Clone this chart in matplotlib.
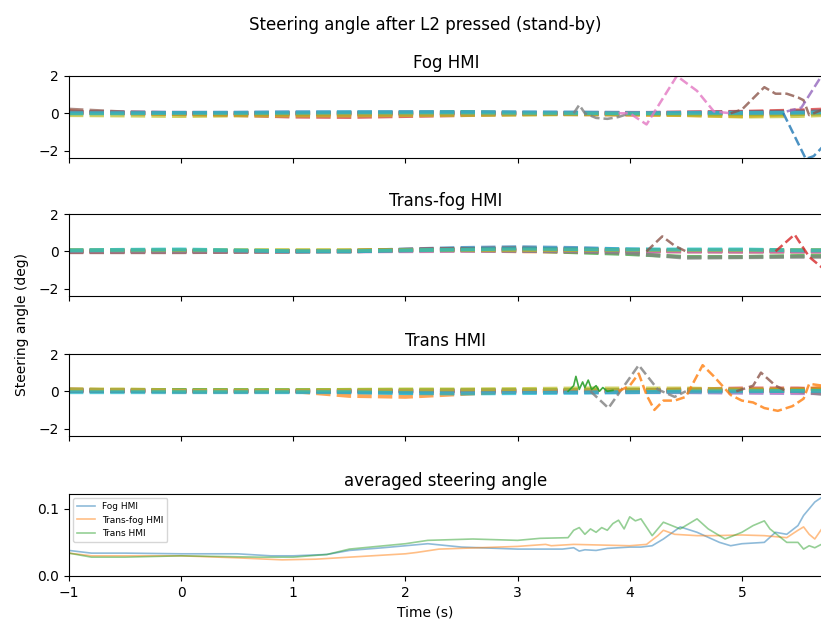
import numpy as np
import matplotlib
matplotlib.use('Agg')
import matplotlib.pyplot as plt

# common coarse time grid for the quiet trials (s)
T_GRID = [-1.0, -0.5, 0.0, 0.5, 1.0, 1.5, 2.0, 2.5, 3.0, 3.5, 4.0, 4.5, 5.0, 5.5, 5.72]

# ---- Fog HMI: quiet trials (one per tab10 colour) ----
FOG_FLAT = [
    [0.05, 0.03, 0.02, 0.03, 0.05, 0.05, 0.05, 0.06, 0.05, 0.04, 0.02, 0.00, 0.02, 0.05, 0.05],
    [0.10, 0.00, -0.05, -0.05, -0.05, -0.05, -0.03, -0.03, -0.02, -0.05, -0.08, -0.10, -0.15, -0.05, 0.00],
    [0.00, 0.02, 0.00, 0.00, 0.00, 0.02, 0.03, 0.05, 0.02, 0.00, -0.02, -0.05, -0.05, -0.02, 0.00],
    [0.10, 0.00, -0.05, -0.10, -0.18, -0.20, -0.15, -0.10, -0.05, -0.03, 0.00, 0.05, 0.08, 0.15, 0.20],
    [0.05, 0.05, 0.03, 0.02, 0.03, 0.03, 0.05, 0.03, 0.02, 0.02, 0.02, 0.03, 0.05, 0.08, 0.10],
    [0.20, 0.05, 0.00, 0.00, 0.00, 0.00, 0.00, 0.00, 0.00, 0.02, 0.02, 0.02, 0.05, 0.10, 0.10],
    [0.00, 0.00, 0.00, 0.02, 0.02, 0.00, 0.00, 0.00, 0.00, 0.00, 0.00, 0.00, 0.00, 0.02, 0.02],
    [0.05, 0.02, 0.00, 0.00, 0.00, 0.00, 0.00, 0.00, -0.02, -0.05, -0.05, -0.02, 0.00, 0.00, 0.00],
    [-0.10, -0.12, -0.15, -0.12, -0.12, -0.12, -0.10, -0.10, -0.08, -0.05, -0.05, -0.10, -0.18, -0.15, -0.10],
    [0.00, 0.00, 0.02, 0.02, 0.03, 0.05, 0.05, 0.05, 0.03, 0.02, 0.00, 0.02, 0.02, 0.03, 0.05],
]
# ---- Fog HMI: trials with large corrections (colour, t, y) ----
FOG_PEAKS = [
    ('C7', [3.50, 3.55, 3.60, 3.70, 3.80, 3.90, 4.00], [0.00, 0.45, 0.00, -0.25, -0.30, -0.20, 0.00]),
    ('C6', [3.90, 4.00, 4.15, 4.42, 4.60, 4.75, 4.90], [0.00, 0.00, -0.60, 2.00, 1.20, 0.10, 0.00]),
    ('C5', [4.90, 5.00, 5.20, 5.30, 5.40, 5.50, 5.55, 5.60, 5.72], [0.00, 0.20, 1.40, 1.05, 1.05, 0.85, 0.70, -0.10, 0.20]),
    ('C4', [5.40, 5.53, 5.72], [0.10, 0.30, 2.10]),
    ('C0', [5.37, 5.57, 5.64, 5.72], [0.00, -2.45, -2.30, -1.80]),
]

# ---- Trans-fog HMI ----
TRANSFOG_FLAT = [
    [0.05, 0.05, 0.05, 0.02, 0.00, 0.02, 0.10, 0.18, 0.22, 0.18, 0.10, 0.05, 0.05, 0.05, 0.05],
    [0.00, 0.00, 0.00, 0.00, 0.00, 0.00, 0.05, 0.05, 0.00, -0.02, 0.00, 0.00, 0.00, 0.00, 0.00],
    [0.00, 0.00, 0.00, 0.00, 0.00, 0.00, 0.05, 0.08, 0.05, -0.05, -0.15, -0.30, -0.30, -0.25, -0.25],
    [-0.02, 0.00, 0.00, 0.00, 0.00, 0.02, 0.08, 0.12, 0.15, 0.10, 0.05, 0.02, 0.00, 0.00, 0.00],
    [0.00, 0.00, 0.00, 0.00, 0.00, 0.00, 0.02, 0.05, 0.05, 0.02, 0.00, 0.00, 0.00, 0.00, 0.00],
    [-0.05, -0.05, -0.05, -0.03, 0.00, 0.03, 0.08, 0.12, 0.15, 0.10, 0.05, 0.00, 0.00, 0.00, 0.00],
    [0.00, 0.00, 0.00, 0.00, 0.00, 0.00, 0.00, 0.02, 0.02, 0.00, 0.00, 0.00, 0.00, 0.00, 0.00],
    [0.00, 0.00, 0.00, 0.00, 0.00, 0.00, 0.05, 0.05, 0.02, 0.00, -0.10, -0.35, -0.32, -0.30, -0.30],
    [0.05, 0.05, 0.05, 0.05, 0.05, 0.05, 0.05, 0.05, 0.05, 0.05, 0.05, 0.05, 0.05, 0.05, 0.05],
    [0.05, 0.08, 0.10, 0.05, 0.00, 0.00, 0.05, 0.10, 0.15, 0.12, 0.10, 0.10, 0.10, 0.05, 0.05],
]
TRANSFOG_PEAKS = [
    ('C5', [4.15, 4.29, 4.40, 4.50], [0.00, 0.80, 0.30, 0.00]),
    ('C3', [5.30, 5.47, 5.60, 5.72], [0.00, 0.90, -0.30, -0.90]),
]

# ---- Trans HMI ----
TRANS_FLAT = [
    [0.05, 0.05, 0.05, 0.03, 0.00, -0.05, -0.08, -0.10, -0.05, -0.05, -0.02, 0.00, 0.00, 0.00, 0.00],
    [0.10, 0.05, 0.00, 0.00, 0.00, -0.25, -0.30, -0.15, 0.00, 0.05, 0.00, 0.00, 0.05, 0.10, 0.20],
    [0.05, 0.05, 0.05, 0.05, 0.05, 0.05, 0.05, 0.05, 0.05, 0.05, 0.05, 0.05, 0.05, 0.05, 0.05],
    [0.00, 0.00, -0.02, -0.02, 0.00, 0.00, 0.00, 0.00, 0.00, 0.00, 0.05, 0.10, 0.15, 0.15, 0.10],
    [0.05, 0.03, 0.00, 0.00, 0.00, 0.00, 0.00, 0.00, 0.00, -0.05, -0.05, -0.05, -0.08, -0.10, -0.10],
    [0.00, 0.00, 0.00, 0.00, 0.00, 0.00, 0.00, 0.00, 0.00, 0.00, 0.00, 0.00, 0.00, 0.00, 0.00],
    [0.05, 0.05, 0.02, 0.00, 0.00, 0.00, 0.00, 0.00, 0.00, 0.00, 0.00, 0.00, 0.00, -0.05, -0.10],
    [0.10, 0.05, 0.00, 0.00, 0.00, 0.00, 0.00, 0.05, 0.05, 0.05, 0.05, 0.05, 0.05, 0.00, -0.15],
    [0.10, 0.10, 0.05, 0.05, 0.05, 0.08, 0.10, 0.10, 0.12, 0.15, 0.15, 0.15, 0.10, 0.10, 0.10],
    [-0.05, -0.05, -0.05, -0.05, -0.05, -0.05, -0.10, -0.12, -0.10, -0.08, -0.05, -0.02, 0.00, 0.02, 0.02],
]
TRANS_PEAKS = [
    ('C7', [3.65, 3.81, 4.08, 4.25, 4.40, 4.50], [0.00, -0.90, 1.40, 0.10, -0.30, 0.00]),
    ('C1', [3.90, 4.00, 4.08, 4.15, 4.22, 4.30, 4.40, 4.50, 4.65, 4.75, 4.90, 5.00, 5.10, 5.20,
            5.32, 5.45, 5.55, 5.60, 5.72],
           [0.00, 0.30, 0.95, -0.20, -1.00, -0.50, -0.50, -0.30, 1.40, 0.80, -0.20, -0.50, -0.60,
            -0.90, -1.05, -0.80, -0.40, 0.40, 0.30]),
    ('C5', [4.95, 5.10, 5.17, 5.30, 5.40], [0.00, 0.30, 1.00, 0.30, 0.00]),
]
# short noisy solid trace in the Trans panel
TRANS_NOISE_T = [3.45, 3.50, 3.52, 3.55, 3.58, 3.60, 3.63, 3.66, 3.70, 3.73, 3.76, 3.80, 3.85]
TRANS_NOISE_Y = [0.00, 0.30, 0.80, 0.10, 0.50, 0.20, 0.60, 0.10, 0.30, 0.00, 0.20, 0.00, 0.05]

# ---- averaged steering angle ----
AVG_FOG_T = [-1.0, -0.8, -0.5, 0.0, 0.5, 0.8, 1.0, 1.3, 1.5, 1.8, 2.0, 2.2, 2.5, 3.0, 3.4, 3.5,
             3.55, 3.6, 3.7, 3.8, 3.9, 4.0, 4.1, 4.2, 4.25, 4.3, 4.45, 4.6, 4.8, 4.9, 5.0, 5.2,
             5.3, 5.4, 5.5, 5.55, 5.6, 5.65, 5.72]
AVG_FOG = [0.038, 0.034, 0.034, 0.033, 0.033, 0.030, 0.030, 0.032, 0.038, 0.042, 0.045, 0.048,
           0.043, 0.040, 0.040, 0.042, 0.037, 0.039, 0.038, 0.041, 0.042, 0.043, 0.043, 0.045,
           0.050, 0.055, 0.073, 0.065, 0.050, 0.045, 0.048, 0.050, 0.065, 0.062, 0.075, 0.090,
           0.100, 0.110, 0.118]
AVG_TRANSFOG_T = [-1.0, -0.8, -0.5, 0.0, 0.5, 0.9, 1.2, 1.5, 2.0, 2.1, 2.3, 3.0, 3.25, 3.3,
                  3.5, 4.0, 4.15, 4.25, 4.3, 4.4, 4.6, 4.75, 5.0, 5.2, 5.4, 5.5, 5.55, 5.6,
                  5.65, 5.72]
AVG_TRANSFOG = [0.034, 0.030, 0.030, 0.030, 0.027, 0.024, 0.025, 0.028, 0.033, 0.035, 0.040,
                0.044, 0.047, 0.045, 0.047, 0.045, 0.047, 0.060, 0.068, 0.062, 0.060, 0.060,
                0.061, 0.060, 0.057, 0.068, 0.073, 0.062, 0.055, 0.072]
AVG_TRANS_T = [-1.0, -0.8, -0.5, 0.0, 0.7, 1.0, 1.3, 1.5, 2.0, 2.2, 2.6, 3.0, 3.2, 3.45, 3.5,
               3.55, 3.6, 3.65, 3.7, 3.75, 3.8, 3.85, 3.9, 3.95, 4.0, 4.05, 4.1, 4.2, 4.3,
               4.45, 4.6, 4.7, 4.85, 5.0, 5.1, 5.2, 5.25, 5.4, 5.5, 5.55, 5.6, 5.65, 5.72]
AVG_TRANS = [0.034, 0.028, 0.028, 0.030, 0.028, 0.028, 0.032, 0.040, 0.048, 0.053, 0.055,
             0.053, 0.056, 0.057, 0.068, 0.072, 0.062, 0.070, 0.065, 0.072, 0.068, 0.078,
             0.083, 0.070, 0.088, 0.082, 0.085, 0.060, 0.080, 0.070, 0.085, 0.070, 0.055,
             0.065, 0.075, 0.082, 0.070, 0.050, 0.050, 0.040, 0.045, 0.042, 0.048]

PANELS = [
    ('Fog HMI', FOG_FLAT, FOG_PEAKS),
    ('Trans-fog HMI', TRANSFOG_FLAT, TRANSFOG_PEAKS),
    ('Trans HMI', TRANS_FLAT, TRANS_PEAKS),
]

fig = plt.figure(figsize=(8.21, 6.26), dpi=100)

# axes boxes in figure fractions [left, bottom, width, height]
tops = [0.8786, 0.6581, 0.4345, 0.2109]
h = 0.131
axes = []
for i, top in enumerate(tops):
    ax = fig.add_axes([0.084, top - h, 0.918, h], sharex=axes[0] if axes else None)
    axes.append(ax)

for ax, (title, flat, peaks) in zip(axes[:3], PANELS):
    for ci, vals in enumerate(flat):
        ax.plot(T_GRID, vals, '--', color=f'C{ci}', lw=2.8, alpha=0.7)
    for color, tt, yy in peaks:
        ax.plot(tt, yy, '--', color=color, lw=1.8, alpha=0.8)
    ax.set_ylim(-2.4, 2.0)
    ax.set_yticks([-2, 0, 2])
    ax.set_title(title, fontsize=12)
    ax.tick_params(labelbottom=False)

axes[2].plot(TRANS_NOISE_T, TRANS_NOISE_Y, '-', color='C2', lw=1.2, alpha=0.9)

ax4 = axes[3]
ax4.plot(AVG_FOG_T, AVG_FOG, color='C0', lw=1.2, alpha=0.5, label='Fog HMI')
ax4.plot(AVG_TRANSFOG_T, AVG_TRANSFOG, color='C1', lw=1.2, alpha=0.5, label='Trans-fog HMI')
ax4.plot(AVG_TRANS_T, AVG_TRANS, color='C2', lw=1.2, alpha=0.5, label='Trans HMI')
ax4.set_ylim(0, 0.122)
ax4.set_yticks([0.0, 0.1])
ax4.set_title('averaged steering angle', fontsize=12)
ax4.legend(loc='upper left', fontsize=6.5, framealpha=0.8)
ax4.set_xlim(-1, 5.72)
ax4.set_xticks([-1, 0, 1, 2, 3, 4, 5])

fig.text(0.518, 0.96, 'Steering angle after L2 pressed (stand-by)', ha='center',
         va='center', fontsize=12)
fig.text(0.027, 0.481, 'Steering angle (deg)', rotation=90, ha='center', va='center',
         fontsize=10)
fig.text(0.518, 0.022, 'Time (s)', ha='center', va='center', fontsize=10)

fig.savefig('out.png', dpi=100)
